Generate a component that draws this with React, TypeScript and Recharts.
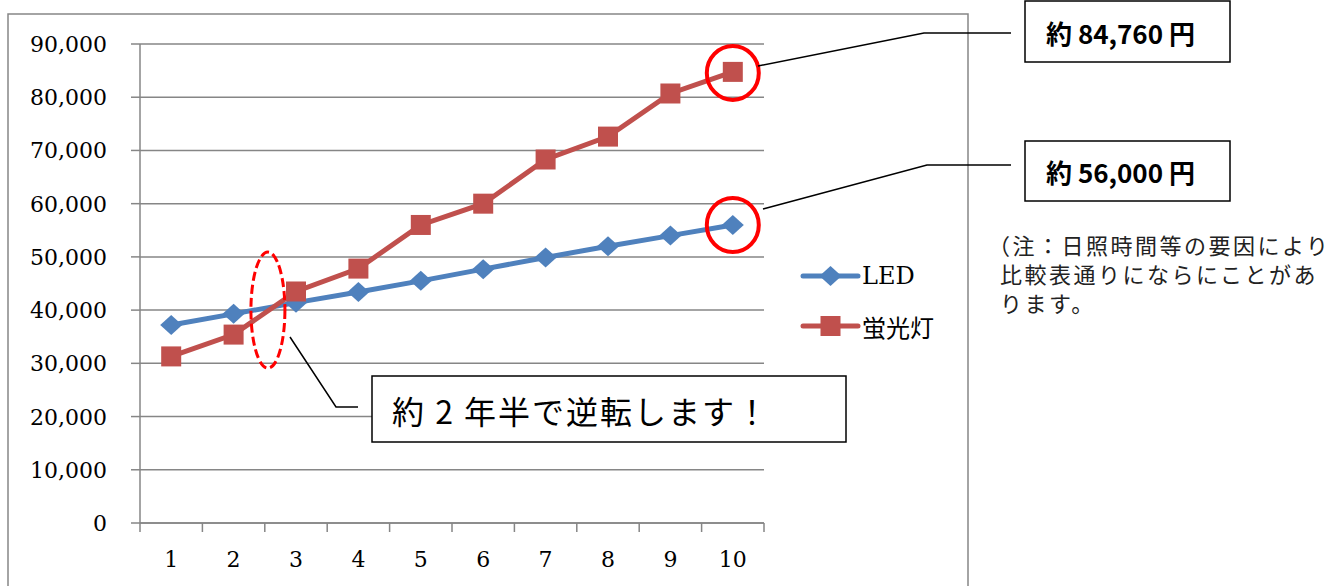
import { LineChart, Line, XAxis, YAxis, CartesianGrid, Legend, ReferenceDot } from 'recharts'

// 年数ごとの累計コスト（円）
const years = [1, 2, 3, 4, 5, 6, 7, 8, 9, 10]
const ledCost = [37200, 39300, 41400, 43400, 45500, 47700, 49900, 52000, 54000, 56000]
const fluorescentCost = [31300, 35400, 43500, 47800, 56000, 60000, 68300, 72600, 80700, 84760]
const yTicks = [0, 10000, 20000, 30000, 40000, 50000, 60000, 70000, 80000, 90000]

const LED_NAME = 'LED'
const FL_NAME = '蛍光灯'

// 逆転ポイントの目安
const crossYear = 2.55
const crossCost = 40000

const data = years.map((year, i) => ({
  year,
  led: ledCost[i],
  fluorescent: fluorescentCost[i],
}))

// tick marks sit between the years, labels on the years
const xTicks = [...years, ...years.map((y) => y - 0.5), years[years.length - 1] + 0.5].sort((a, b) => a - b)

const BLUE = '#4F81BD'
const RED = '#C0504D'
const GRID = '#868686'
const SERIF = '"DejaVu Serif", "Liberation Serif", serif'
const GOTHIC = '"Noto Sans CJK JP", "Noto Sans", sans-serif'

const XTick = (props: any) => {
  const { x, y, payload } = props
  const v = payload.value
  if (Number.isInteger(v)) {
    return (
      <text x={x} y={y + 44} textAnchor="middle" style={{ fontFamily: SERIF, fontSize: 22 }} fill="#000">
        {v}
      </text>
    )
  }
  return <line x1={x} y1={y} x2={x} y2={y + 9} stroke={GRID} strokeWidth={1.5} />
}

const YTick = (props: any) => {
  const { x, y, payload } = props
  return (
    <text x={x} y={y + 8} textAnchor="end" style={{ fontFamily: SERIF, fontSize: 22 }} fill="#000">
      {Number(payload.value).toLocaleString('en-US')}
    </text>
  )
}

const Diamond = ({ cx, cy, color }: { cx: number; cy: number; color: string }) => (
  <polygon points={`${cx - 11},${cy} ${cx},${cy - 10} ${cx + 11},${cy} ${cx},${cy + 10}`} fill={color} />
)

const Square = ({ cx, cy, color }: { cx: number; cy: number; color: string }) => (
  <rect x={cx - 10} y={cy - 10} width={20} height={20} fill={color} />
)

const renderLegend = (props: any) => {
  const items = props.payload || []
  return (
    <svg width={170} height={100}>
      {items.map((item: any, i: number) => {
        const cy = 26 + i * 50
        const color = item.color
        return (
          <g key={item.value}>
            <line x1={8} y1={cy} x2={63} y2={cy} stroke={color} strokeWidth={5} strokeLinecap="round" />
            {item.dataKey === 'led' ? <Diamond cx={35.5} cy={cy} color={color} /> : <Square cx={35.5} cy={cy} color={color} />}
            <text
              x={67}
              y={cy}
              dominantBaseline="central"
              style={{ fontFamily: item.dataKey === 'led' ? SERIF : GOTHIC, fontSize: 24 }}
              fill="#000"
            >
              {item.value}
            </text>
          </g>
        )
      })}
    </svg>
  )
}

export default function App() {
  return (
    <div style={{ position: 'absolute', left: 0, top: 0, width: 1341, height: 586, background: '#fff', overflow: 'hidden' }}>
      <svg width={1341} height={586} style={{ position: 'absolute', left: 0, top: 0 }}>
        <rect x={8} y={14} width={960} height={620} fill="none" stroke={GRID} strokeWidth={1.5} />
      </svg>

      <div style={{ position: 'absolute', left: 0, top: 0 }}>
        <LineChart width={1341} height={586} data={data} margin={{ top: 44, right: 577, bottom: 23, left: 0 }}>
          <CartesianGrid vertical={false} stroke={GRID} strokeWidth={1.5} />
          <XAxis
            dataKey="year"
            type="number"
            domain={[0.5, 10.5]}
            ticks={xTicks}
            interval={0}
            height={40}
            tickSize={0}
            tickMargin={0}
            tickLine={false}
            axisLine={{ stroke: GRID, strokeWidth: 1.5 }}
            tick={XTick}
          />
          <YAxis
            width={140}
            domain={[0, 90000]}
            ticks={yTicks}
            interval={0}
            tickSize={9}
            tickMargin={24}
            tickLine={{ stroke: GRID, strokeWidth: 1.5 }}
            axisLine={{ stroke: GRID, strokeWidth: 1.5 }}
            tick={YTick}
          />
          <Legend
            layout="vertical"
            align="center"
            verticalAlign="middle"
            wrapperStyle={{ left: 795, top: 250, width: 170, height: 100 }}
            content={renderLegend}
          />
          <Line
            type="linear"
            dataKey="led"
            name={LED_NAME}
            stroke={BLUE}
            strokeWidth={5}
            isAnimationActive={false}
            dot={(p: any) => <Diamond key={`led-${p.index}`} cx={p.cx} cy={p.cy} color={BLUE} />}
            activeDot={false}
          />
          <Line
            type="linear"
            dataKey="fluorescent"
            name={FL_NAME}
            stroke={RED}
            strokeWidth={5}
            isAnimationActive={false}
            dot={(p: any) => <Square key={`fl-${p.index}`} cx={p.cx} cy={p.cy} color={RED} />}
            activeDot={false}
          />
          <ReferenceDot
            x={years[years.length - 1]}
            y={fluorescentCost[fluorescentCost.length - 1]}
            ifOverflow="visible"
            shape={(p: any) => <ellipse cx={p.cx} cy={p.cy + 1} rx={26} ry={27} fill="none" stroke="#FF0000" strokeWidth={4} />}
          />
          <ReferenceDot
            x={years[years.length - 1]}
            y={ledCost[ledCost.length - 1]}
            ifOverflow="visible"
            shape={(p: any) => <ellipse cx={p.cx} cy={p.cy} rx={26} ry={27} fill="none" stroke="#FF0000" strokeWidth={4} />}
          />
          <ReferenceDot
            x={crossYear}
            y={crossCost}
            ifOverflow="visible"
            shape={(p: any) => (
              <ellipse cx={p.cx} cy={p.cy} rx={17} ry={58} fill="none" stroke="#FF0000" strokeWidth={3} strokeDasharray="9 4" />
            )}
          />
        </LineChart>
      </div>

      <svg width={1341} height={586} style={{ position: 'absolute', left: 0, top: 0, pointerEvents: 'none' }}>
        {/* callout: fluorescent total */}
        <polyline points="758,66 924,33 1011,33" fill="none" stroke="#000" strokeWidth={1.5} />
        <rect x={1025} y={1} width={205} height={61} fill="#fff" stroke="#000" strokeWidth={1.5} />
        <text x={1046} y={32} dominantBaseline="central" fontFamily={GOTHIC} fontWeight={700} fontSize={26} fill="#000">
          約 84,760 円
        </text>

        {/* callout: LED total */}
        <polyline points="763,209 927,165 1011,165" fill="none" stroke="#000" strokeWidth={1.5} />
        <rect x={1025} y={141} width={205} height={60} fill="#fff" stroke="#000" strokeWidth={1.5} />
        <text x={1046} y={171} dominantBaseline="central" fontFamily={GOTHIC} fontWeight={700} fontSize={26} fill="#000">
          約 56,000 円
        </text>

        {/* note */}
        <g fontFamily={GOTHIC} fontSize={22} fill="#222" letterSpacing={2.5}>
          <text x={988} y={244} dominantBaseline="central">（注：日照時間等の要因により</text>
          <text x={1000} y={273} dominantBaseline="central">比較表通りにならにことがあ</text>
          <text x={1000} y={302} dominantBaseline="central">ります。</text>
        </g>

        {/* callout: crossover */}
        <polyline points="290,337 336,407 358,407" fill="none" stroke="#000" strokeWidth={1.5} />
        <rect x={372} y={376} width={474} height={66} fill="#fff" stroke="#000" strokeWidth={1.5} />
        <text x={392} y={410} dominantBaseline="central" fontFamily={GOTHIC} fontSize={32} letterSpacing={2} fill="#000">
          約 2 年半で逆転します！
        </text>
      </svg>
    </div>
  )
}
